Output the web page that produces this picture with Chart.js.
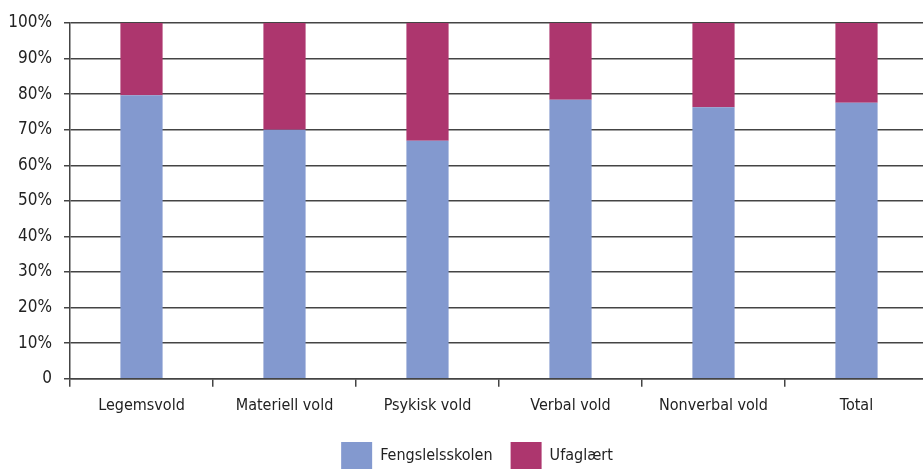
<!DOCTYPE html>
<html>
<head>
<meta charset="utf-8">
<script src="https://cdn.jsdelivr.net/npm/chart.js@4"></script>
<style>
  html, body { margin: 0; padding: 0; overflow: hidden; background: #fff; }
  #wrap { width: 928px; height: 479px; }
</style>
</head>
<body>
<div id="wrap"><canvas id="chart"></canvas></div>
<script>
const categories = ['Legemsvold', 'Materiell vold', 'Psykisk vold', 'Verbal vold', 'Nonverbal vold', 'Total'];
const fengsel = [79.7, 70.0, 66.9, 78.4, 76.3, 77.6];
const ufaglaert = [20.3, 30.0, 33.1, 21.6, 23.7, 22.4];
const yTicks = [0, 10, 20, 30, 40, 50, 60, 70, 80, 90, 100];

const family = "'Liberation Sans Narrow', 'DejaVu Sans Condensed', Roboto, sans-serif";
const font = { family: family, size: 16 };
const textColor = '#222';
const lineColor = '#444';

// the legend in the source sits a little right of centre
const legendShift = {
  id: 'legendShift',
  afterLayout(chart) {
    chart.legend.left += 13;
    chart.legend.right += 13;
  },
};

const ctx = document.getElementById('chart').getContext('2d');
new Chart(ctx, {
  type: 'bar',
  data: {
    labels: categories,
    datasets: [{
      label: 'Fengslelsskolen',
      data: fengsel,
      backgroundColor: '#8399cf',
      categoryPercentage: 1,
      barPercentage: 0.295,
    }, {
      label: 'Ufaglært',
      data: ufaglaert,
      backgroundColor: '#ad366e',
      categoryPercentage: 1,
      barPercentage: 0.295,
    }],
  },
  plugins: [legendShift],
  options: {
    responsive: true,
    maintainAspectRatio: false,
    animation: false,
    layout: { padding: { top: 23, left: 0, right: 0, bottom: 0 } },
    plugins: {
      tooltip: { enabled: false },
      legend: {
        position: 'bottom',
        labels: {
          font: font,
          color: textColor,
          boxWidth: 31,
          boxHeight: 27,
          padding: 18,
        },
      },
    },
    scales: {
      x: {
        stacked: true,
        grid: {
          offset: true,
          drawOnChartArea: false,
          color: lineColor,
          lineWidth: 1.5,
          tickLength: 8,
        },
        border: { color: lineColor, width: 1.5 },
        ticks: { font: font, color: textColor, padding: 9 },
      },
      y: {
        stacked: true,
        min: 0,
        max: 100,
        afterFit: s => { s.width = 70; },
        afterBuildTicks: s => { s.ticks = yTicks.map(v => ({ value: v })); },
        grid: { color: lineColor, lineWidth: 1.5, tickLength: 6 },
        border: { color: lineColor, width: 1.5 },
        ticks: {
          font: { family: family, size: 17 },
          color: textColor,
          padding: 12,
          callback: v => v === 0 ? '0' : v + '%',
        },
      },
    },
  },
});
</script>
</body>
</html>
